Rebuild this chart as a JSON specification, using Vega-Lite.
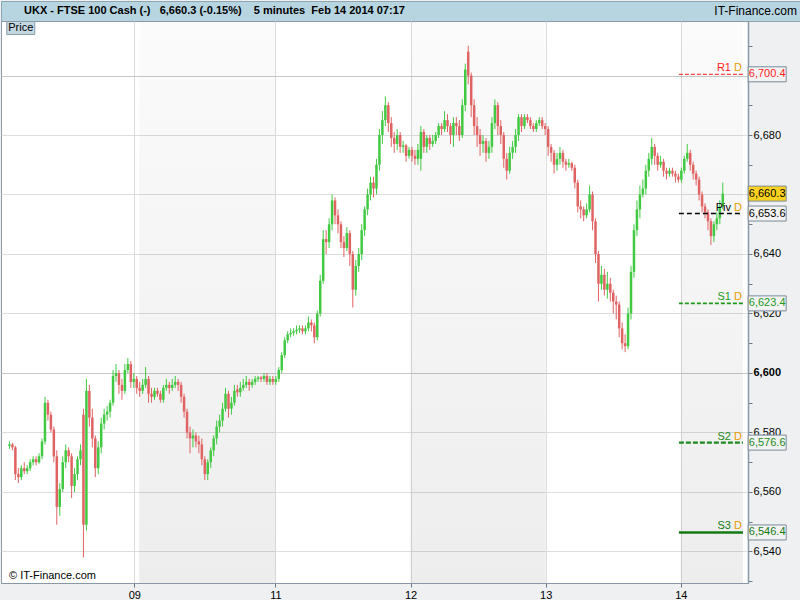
{
  "$schema": "https://vega.github.io/schema/vega-lite/v6.json",
  "background": "#eef0f2",
  "padding": 0,
  "spacing": 0,
  "bounds": "flush",
  "config": {"font": "Liberation Sans", "view": {"stroke": null}},
  "datasets": {
    "candles": [
      {"t":0,"o":6575.5,"h":6577,"l":6574.5,"c":6576},{"t":1,"o":6576,"h":6576.5,"l":6574,"c":6575},{"t":2,"o":6575,"h":6575.5,"l":6564,"c":6566},{"t":3,"o":6566,"h":6568,"l":6563,"c":6565},{"t":4,"o":6565,"h":6569,"l":6564,"c":6568},{"t":5,"o":6568,"h":6570,"l":6566,"c":6567},{"t":6,"o":6567,"h":6569,"l":6566,"c":6568},{"t":7,"o":6568,"h":6571,"l":6567,"c":6570},{"t":8,"o":6570,"h":6572,"l":6569,"c":6571},{"t":9,"o":6571,"h":6572,"l":6569,"c":6570},
      {"t":10,"o":6570,"h":6573,"l":6569.5,"c":6572},{"t":11,"o":6572,"h":6578,"l":6571,"c":6577},{"t":12,"o":6577,"h":6592,"l":6576,"c":6590},{"t":13,"o":6590,"h":6591,"l":6584,"c":6586},{"t":14,"o":6586,"h":6587,"l":6580,"c":6581},{"t":15,"o":6581,"h":6582,"l":6570,"c":6572},{"t":16,"o":6572,"h":6574,"l":6549,"c":6555},{"t":17,"o":6555,"h":6563,"l":6552,"c":6561},{"t":18,"o":6561,"h":6572,"l":6560,"c":6570},{"t":19,"o":6570,"h":6576,"l":6568,"c":6574},
      {"t":20,"o":6574,"h":6575,"l":6570,"c":6572},{"t":21,"o":6572,"h":6573,"l":6558,"c":6562},{"t":22,"o":6562,"h":6568,"l":6560,"c":6566},{"t":23,"o":6566,"h":6572,"l":6564,"c":6571},{"t":24,"o":6571,"h":6576,"l":6569,"c":6574},{"t":25,"o":6586,"h":6588,"l":6538,"c":6549},{"t":26,"o":6549,"h":6598,"l":6547,"c":6594},{"t":27,"o":6594,"h":6596,"l":6582,"c":6585},{"t":28,"o":6585,"h":6588,"l":6575,"c":6578},{"t":29,"o":6578,"h":6579,"l":6565,"c":6568},
      {"t":30,"o":6568,"h":6577,"l":6566,"c":6575},{"t":31,"o":6575,"h":6585,"l":6573,"c":6583},{"t":32,"o":6583,"h":6588,"l":6581,"c":6586},{"t":33,"o":6586,"h":6589,"l":6584,"c":6587},{"t":34,"o":6587,"h":6591,"l":6585,"c":6590},{"t":35,"o":6590,"h":6601,"l":6589,"c":6599},{"t":36,"o":6599,"h":6603,"l":6597,"c":6600},{"t":37,"o":6600,"h":6601,"l":6593,"c":6596},{"t":38,"o":6596,"h":6598,"l":6591,"c":6594},{"t":39,"o":6594,"h":6603,"l":6593,"c":6601},
      {"t":40,"o":6601,"h":6605,"l":6600,"c":6603},{"t":41,"o":6603,"h":6604,"l":6595,"c":6597},{"t":42,"o":6597,"h":6600,"l":6595,"c":6598},{"t":43,"o":6598,"h":6599,"l":6593,"c":6595},{"t":44,"o":6595,"h":6597,"l":6592,"c":6594},{"t":45,"o":6594,"h":6598,"l":6593,"c":6596},{"t":46,"o":6596,"h":6602,"l":6595,"c":6598},{"t":47,"o":6598,"h":6599,"l":6590,"c":6593},{"t":48,"o":6593,"h":6595,"l":6590,"c":6592},{"t":49,"o":6592,"h":6595,"l":6591,"c":6594},
      {"t":50,"o":6594,"h":6595,"l":6592,"c":6593},{"t":51,"o":6593,"h":6594,"l":6590,"c":6591},{"t":52,"o":6591,"h":6596,"l":6590,"c":6595},{"t":53,"o":6595,"h":6598,"l":6594,"c":6596},{"t":54,"o":6596,"h":6597,"l":6593,"c":6595},{"t":55,"o":6595,"h":6598,"l":6594,"c":6596},{"t":56,"o":6596,"h":6599,"l":6595,"c":6597},{"t":57,"o":6597,"h":6598,"l":6594,"c":6596},{"t":58,"o":6596,"h":6597,"l":6590,"c":6592},{"t":59,"o":6592,"h":6593,"l":6585,"c":6587},
      {"t":60,"o":6587,"h":6588,"l":6578,"c":6580},{"t":61,"o":6580,"h":6582,"l":6573,"c":6578},{"t":62,"o":6578,"h":6581,"l":6575,"c":6579},{"t":63,"o":6579,"h":6580,"l":6575,"c":6577},{"t":64,"o":6577,"h":6579,"l":6573,"c":6576},{"t":65,"o":6576,"h":6578,"l":6569,"c":6571},{"t":66,"o":6571,"h":6572,"l":6564,"c":6566},{"t":67,"o":6566,"h":6571,"l":6564,"c":6570},{"t":68,"o":6570,"h":6575,"l":6568,"c":6574},{"t":69,"o":6574,"h":6579,"l":6572,"c":6578},
      {"t":70,"o":6578,"h":6584,"l":6576,"c":6582},{"t":71,"o":6582,"h":6586,"l":6580,"c":6584},{"t":72,"o":6584,"h":6590,"l":6582,"c":6588},{"t":73,"o":6588,"h":6595,"l":6587,"c":6593},{"t":74,"o":6593,"h":6594,"l":6585,"c":6588},{"t":75,"o":6588,"h":6592,"l":6586,"c":6590},{"t":76,"o":6590,"h":6596,"l":6589,"c":6594},{"t":77,"o":6594.5,"h":6596,"l":6592,"c":6593.5},{"t":78,"o":6593.5,"h":6597,"l":6592,"c":6595},{"t":79,"o":6595,"h":6598,"l":6594,"c":6596},
      {"t":80,"o":6596,"h":6599,"l":6595,"c":6597},{"t":81,"o":6597,"h":6598,"l":6594,"c":6596},{"t":82,"o":6596,"h":6598,"l":6595,"c":6597},{"t":83,"o":6597,"h":6599,"l":6596,"c":6598},{"t":84,"o":6598,"h":6599,"l":6597,"c":6598.5},{"t":85,"o":6598.5,"h":6599,"l":6597,"c":6598},{"t":86,"o":6598,"h":6600,"l":6597,"c":6599},{"t":87,"o":6599,"h":6600,"l":6596,"c":6597},{"t":88,"o":6597,"h":6599,"l":6596,"c":6598},{"t":89,"o":6598,"h":6599,"l":6596,"c":6597},
      {"t":90,"o":6597,"h":6599,"l":6596,"c":6598},{"t":91,"o":6598,"h":6602,"l":6597,"c":6601},{"t":92,"o":6601,"h":6607,"l":6600,"c":6606},{"t":93,"o":6606,"h":6612,"l":6605,"c":6611},{"t":94,"o":6611,"h":6614,"l":6610,"c":6613},{"t":95,"o":6613,"h":6615,"l":6612,"c":6613.5},{"t":96,"o":6613.5,"h":6615,"l":6612.5,"c":6614},{"t":97,"o":6614,"h":6616,"l":6613,"c":6614.5},{"t":98,"o":6614.5,"h":6616,"l":6613.5,"c":6615},{"t":99,"o":6615,"h":6616,"l":6613,"c":6614},
      {"t":100,"o":6614,"h":6616,"l":6613,"c":6615},{"t":101,"o":6615,"h":6619,"l":6614,"c":6617},{"t":102,"o":6617,"h":6618,"l":6614,"c":6616},{"t":103,"o":6616,"h":6617,"l":6610,"c":6612},{"t":104,"o":6612,"h":6621,"l":6611,"c":6620},{"t":105,"o":6620,"h":6633,"l":6619,"c":6631},{"t":106,"o":6631,"h":6648,"l":6630,"c":6645},{"t":107,"o":6645,"h":6648,"l":6640,"c":6644},{"t":108,"o":6644,"h":6652,"l":6642,"c":6650},{"t":109,"o":6650,"h":6660,"l":6648,"c":6658},
      {"t":110,"o":6658,"h":6659,"l":6650,"c":6653},{"t":111,"o":6653,"h":6655,"l":6647,"c":6650},{"t":112,"o":6650,"h":6651,"l":6642,"c":6644},{"t":113,"o":6644,"h":6646,"l":6639,"c":6642},{"t":114,"o":6642,"h":6649,"l":6641,"c":6647},{"t":115,"o":6647,"h":6648,"l":6636,"c":6640},{"t":116,"o":6640,"h":6641,"l":6622,"c":6628},{"t":117,"o":6628,"h":6638,"l":6626,"c":6636},{"t":118,"o":6636,"h":6642,"l":6634,"c":6640},{"t":119,"o":6640,"h":6650,"l":6638,"c":6648},
      {"t":120,"o":6648,"h":6656,"l":6646,"c":6655},{"t":121,"o":6655,"h":6662,"l":6653,"c":6660},{"t":122,"o":6660,"h":6666,"l":6658,"c":6664},{"t":123,"o":6664,"h":6666,"l":6659,"c":6662},{"t":124,"o":6662,"h":6672,"l":6660,"c":6670},{"t":125,"o":6670,"h":6682,"l":6668,"c":6680},{"t":126,"o":6680,"h":6688,"l":6677,"c":6685},{"t":127,"o":6685,"h":6693,"l":6683,"c":6690},{"t":128,"o":6690,"h":6691,"l":6681,"c":6684},{"t":129,"o":6684,"h":6686,"l":6676,"c":6679},
      {"t":130,"o":6679,"h":6681,"l":6674,"c":6677},{"t":131,"o":6677,"h":6682,"l":6675,"c":6680},{"t":132,"o":6680,"h":6681,"l":6674,"c":6676},{"t":133,"o":6676,"h":6678,"l":6674,"c":6676.5},{"t":134,"o":6676.5,"h":6677,"l":6671,"c":6673},{"t":135,"o":6673,"h":6676,"l":6672,"c":6675},{"t":136,"o":6675,"h":6676,"l":6671,"c":6673},{"t":137,"o":6673,"h":6675,"l":6670,"c":6672},{"t":138,"o":6672,"h":6677,"l":6670,"c":6675},{"t":139,"o":6672,"h":6683,"l":6668,"c":6681},
      {"t":140,"o":6681,"h":6682,"l":6674,"c":6676},{"t":141,"o":6676,"h":6680,"l":6674,"c":6679},{"t":142,"o":6679,"h":6680,"l":6675,"c":6677},{"t":143,"o":6677,"h":6680,"l":6676,"c":6678},{"t":144,"o":6678,"h":6681,"l":6677,"c":6680},{"t":145,"o":6680,"h":6684,"l":6679,"c":6683},{"t":146,"o":6683,"h":6684,"l":6680,"c":6682},{"t":147,"o":6682,"h":6688,"l":6681,"c":6685},{"t":148,"o":6685,"h":6687,"l":6681,"c":6683},{"t":149,"o":6683,"h":6684,"l":6677,"c":6680},
      {"t":150,"o":6680,"h":6686,"l":6676,"c":6684},{"t":151,"o":6684,"h":6686,"l":6680,"c":6683},{"t":152,"o":6683,"h":6685,"l":6678,"c":6680},{"t":153,"o":6680,"h":6692,"l":6679,"c":6690},{"t":154,"o":6690,"h":6704,"l":6688,"c":6702},{"t":155,"o":6708,"h":6710,"l":6697,"c":6700},{"t":156,"o":6700,"h":6701,"l":6686,"c":6690},{"t":157,"o":6690,"h":6692,"l":6680,"c":6683},{"t":158,"o":6683,"h":6686,"l":6676,"c":6680},{"t":159,"o":6680,"h":6682,"l":6673,"c":6677},
      {"t":160,"o":6677,"h":6680,"l":6674,"c":6678},{"t":161,"o":6678,"h":6679,"l":6671,"c":6674},{"t":162,"o":6674,"h":6678,"l":6672,"c":6676},{"t":163,"o":6676,"h":6686,"l":6674,"c":6684},{"t":164,"o":6684,"h":6692,"l":6682,"c":6690},{"t":165,"o":6690,"h":6691,"l":6680,"c":6683},{"t":166,"o":6683,"h":6685,"l":6677,"c":6680},{"t":167,"o":6680,"h":6681,"l":6669,"c":6672},{"t":168,"o":6672,"h":6674,"l":6665,"c":6668},{"t":169,"o":6668,"h":6676,"l":6667,"c":6674},
      {"t":170,"o":6674,"h":6678,"l":6672,"c":6676},{"t":171,"o":6676,"h":6682,"l":6674,"c":6680},{"t":172,"o":6680,"h":6687,"l":6678,"c":6686},{"t":173,"o":6686,"h":6687,"l":6681,"c":6683},{"t":174,"o":6683,"h":6687,"l":6682,"c":6686},{"t":175,"o":6686,"h":6687,"l":6684,"c":6685},{"t":176,"o":6685,"h":6686,"l":6682,"c":6683},{"t":177,"o":6683,"h":6684,"l":6681,"c":6682},{"t":178,"o":6682,"h":6685,"l":6681,"c":6684},{"t":179,"o":6684,"h":6686,"l":6683,"c":6685},
      {"t":180,"o":6685,"h":6686,"l":6682,"c":6683},{"t":181,"o":6683,"h":6684,"l":6680,"c":6682},{"t":182,"o":6682,"h":6683,"l":6673,"c":6676},{"t":183,"o":6676,"h":6677,"l":6671,"c":6674},{"t":184,"o":6674,"h":6675,"l":6667,"c":6670},{"t":185,"o":6670,"h":6674,"l":6668,"c":6672},{"t":186,"o":6672,"h":6676,"l":6670,"c":6674},{"t":187,"o":6674,"h":6675,"l":6669,"c":6671},{"t":188,"o":6671,"h":6672,"l":6668,"c":6670},{"t":189,"o":6670,"h":6672,"l":6669,"c":6670.5},
      {"t":190,"o":6670.5,"h":6671,"l":6668,"c":6669},{"t":191,"o":6669,"h":6670,"l":6662,"c":6664},{"t":192,"o":6664,"h":6665,"l":6654,"c":6656},{"t":193,"o":6656,"h":6658,"l":6652,"c":6655},{"t":194,"o":6655,"h":6656,"l":6651,"c":6653},{"t":195,"o":6653,"h":6657,"l":6652,"c":6655},{"t":196,"o":6655,"h":6663,"l":6654,"c":6660},{"t":197,"o":6660,"h":6661,"l":6648,"c":6651},{"t":198,"o":6651,"h":6652,"l":6637,"c":6640},{"t":199,"o":6640,"h":6641,"l":6624,"c":6630},
      {"t":200,"o":6630,"h":6636,"l":6628,"c":6633},{"t":201,"o":6633,"h":6635,"l":6626,"c":6628},{"t":202,"o":6628,"h":6634,"l":6625,"c":6630},{"t":203,"o":6630,"h":6632,"l":6624,"c":6627},{"t":204,"o":6627,"h":6628,"l":6620,"c":6624},{"t":205,"o":6624,"h":6626,"l":6618,"c":6623},{"t":206,"o":6623,"h":6624,"l":6612,"c":6615},{"t":207,"o":6615,"h":6617,"l":6608,"c":6610},{"t":208,"o":6610,"h":6613,"l":6607,"c":6609},{"t":209,"o":6609,"h":6622,"l":6608,"c":6620},
      {"t":210,"o":6620,"h":6636,"l":6618,"c":6634},{"t":211,"o":6634,"h":6650,"l":6632,"c":6648},{"t":212,"o":6648,"h":6658,"l":6646,"c":6655},{"t":213,"o":6655,"h":6663,"l":6652,"c":6660},{"t":214,"o":6660,"h":6665,"l":6659,"c":6662},{"t":215,"o":6662,"h":6670,"l":6660,"c":6668},{"t":216,"o":6668,"h":6674,"l":6666,"c":6672},{"t":217,"o":6672,"h":6679,"l":6670,"c":6676},{"t":218,"o":6676,"h":6677,"l":6670,"c":6673},{"t":219,"o":6673,"h":6674,"l":6668,"c":6670},
      {"t":220,"o":6670,"h":6673,"l":6669,"c":6671},{"t":221,"o":6671,"h":6672,"l":6666,"c":6668},{"t":222,"o":6668,"h":6669,"l":6665,"c":6667},{"t":223,"o":6667,"h":6669,"l":6666,"c":6668},{"t":224,"o":6668,"h":6669,"l":6666,"c":6667},{"t":225,"o":6667,"h":6668,"l":6664,"c":6666},{"t":226,"o":6666,"h":6667,"l":6664,"c":6665},{"t":227,"o":6665,"h":6669,"l":6664,"c":6668},{"t":228,"o":6668,"h":6673,"l":6667,"c":6672},{"t":229,"o":6672,"h":6677,"l":6671,"c":6674},
      {"t":230,"o":6674,"h":6675,"l":6668,"c":6670},{"t":231,"o":6670,"h":6671,"l":6665,"c":6667},{"t":232,"o":6667,"h":6668,"l":6663,"c":6665},{"t":233,"o":6665,"h":6666,"l":6658,"c":6660},{"t":234,"o":6660,"h":6661,"l":6654,"c":6656},{"t":235,"o":6656,"h":6657,"l":6652,"c":6654},{"t":236,"o":6654,"h":6655,"l":6648,"c":6651},{"t":237,"o":6651,"h":6652,"l":6643,"c":6646},{"t":238,"o":6646,"h":6651,"l":6644,"c":6650},{"t":239,"o":6650,"h":6654,"l":6648,"c":6652},
      {"t":240,"o":6652,"h":6658,"l":6650,"c":6656},{"t":241,"o":6656,"h":6664,"l":6655,"c":6660.3}
    ],
    "bands": [{"d0": 43.83, "d1": 89.83}, {"d0": 135.5, "d1": 181.17}, {"d0": 226.83, "d1": 247.83}],
    "levels": [
      {"name": "R1", "v": 6700.4},
      {"name": "Piv", "v": 6653.6},
      {"name": "S1", "v": 6623.4},
      {"name": "S2", "v": 6576.6},
      {"name": "S3", "v": 6546.4}
    ],
    "tags": [
      {"name": "R1", "v": 6700.4},
      {"name": "Last", "v": 6660.3},
      {"name": "Piv", "v": 6653.6},
      {"name": "S1", "v": 6623.4},
      {"name": "S2", "v": 6576.6},
      {"name": "S3", "v": 6546.4}
    ]
  },
  "vconcat": [
    {
      "width": 800,
      "height": 20,
      "view": {"fill": "#b7d5e0", "stroke": "#8fa5b2"},
      "data": {"values": [{"left": "UKX - FTSE 100 Cash (-)\u00a0\u00a0 6,660.3 (-0.15%)\u00a0\u00a0\u00a0 5 minutes\u00a0 Feb 14 2014 07:17", "right": "IT-Finance.com"}]},
      "layer": [
        {
          "mark": {"type": "text", "align": "left", "baseline": "middle", "fontWeight": "bold", "fontSize": 11, "dx": 23, "color": "#000000"},
          "encoding": {"x": {"datum": 0, "type": "quantitative", "scale": {"domain": [0, 1]}, "axis": null}, "text": {"field": "left"}}
        },
        {
          "mark": {"type": "text", "align": "right", "baseline": "middle", "fontSize": 12, "dx": -4, "color": "#000000"},
          "encoding": {"x": {"datum": 1, "type": "quantitative", "scale": {"domain": [0, 1]}, "axis": null}, "text": {"field": "right"}}
        }
      ]
    },
    {
      "width": 747,
      "height": 562,
      "view": {"fill": "#ffffff", "stroke": "#8a9aa8"},
      "layer": [
        {
          "data": {"name": "bands"},
          "mark": {"type": "rect", "fill": {"x1": 0, "y1": 0, "x2": 0, "y2": 1, "gradient": "linear", "stops": [{"offset": 0, "color": "rgba(0,0,0,0.015)"}, {"offset": 1, "color": "rgba(0,0,0,0.07)"}]}},
          "encoding": {
            "x": {"field": "d0", "type": "quantitative", "scale": {"domain": [-1.1667, 247.8333], "nice": false, "zero": false},
              "axis": {"orient": "bottom", "values": [42.17, 89.83, 135.5, 181.17, 226.83], "labelExpr": "datum.value < 60 ? '09' : datum.value < 100 ? '11' : datum.value < 150 ? '12' : datum.value < 200 ? '13' : '14'", "title": null, "grid": true, "gridColor": "#dcdcdc", "domainColor": "#8898a8", "tickColor": "#6a7a88", "tickSize": 4, "labelFontSize": 11, "labelColor": "#000000", "labelPadding": 2, "labelFlush": false, "labelOverlap": false}},
            "x2": {"field": "d1"}
          }
        },
        {
          "data": {"name": "candles"},
          "mark": {"type": "rule", "strokeWidth": 1},
          "encoding": {
            "x": {"field": "t", "type": "quantitative", "scale": {"domain": [-1.1667, 247.8333], "nice": false, "zero": false},
              "axis": {"orient": "bottom", "values": [42.17, 89.83, 135.5, 181.17, 226.83], "labelExpr": "datum.value < 60 ? '09' : datum.value < 100 ? '11' : datum.value < 150 ? '12' : datum.value < 200 ? '13' : '14'", "title": null, "grid": true, "gridColor": "#dcdcdc", "domainColor": "#8898a8", "tickColor": "#6a7a88", "tickSize": 4, "labelFontSize": 11, "labelColor": "#000000", "labelPadding": 2, "labelFlush": false, "labelOverlap": false}},
            "y": {"field": "l", "type": "quantitative", "scale": {"domain": [6529.41, 6718.32], "nice": false, "zero": false},
              "axis": {"orient": "right", "values": [6530, 6540, 6550, 6560, 6570, 6580, 6590, 6600, 6610, 6620, 6630, 6640, 6650, 6660, 6670, 6680, 6690, 6700, 6710], "format": ",d", "labelExpr": "(datum.value % 20 != 0 || datum.value == 6660 || datum.value == 6700) ? '' : datum.label", "title": null, "grid": true, "gridColor": {"condition": {"test": "datum.value == 6600 || datum.value == 6700", "value": "#c8c8c8"}, "value": "#dddddd"}, "gridOpacity": {"condition": {"test": "datum.value % 20 == 0", "value": 1}, "value": 0}, "labelFontWeight": {"condition": {"test": "datum.value == 6600", "value": "bold"}, "value": "normal"}, "domainColor": "#8898a8", "domainWidth": 1.5, "tickColor": "#6a7a88", "tickSize": 4, "labelFontSize": 11, "labelColor": "#000000", "labelPadding": 1, "labelFlush": false, "labelOverlap": false}},
            "y2": {"field": "h"},
            "color": {"condition": {"test": "datum.c >= datum.o", "value": "#42c942"}, "value": "#e06363"}
          }
        },
        {
          "data": {"name": "candles"},
          "mark": {"type": "bar", "size": 2.5, "orient": "vertical"},
          "encoding": {
            "x": {"field": "t", "type": "quantitative", "scale": {"domain": [-1.1667, 247.8333], "nice": false, "zero": false},
              "axis": {"orient": "bottom", "values": [42.17, 89.83, 135.5, 181.17, 226.83], "labelExpr": "datum.value < 60 ? '09' : datum.value < 100 ? '11' : datum.value < 150 ? '12' : datum.value < 200 ? '13' : '14'", "title": null, "grid": true, "gridColor": "#dcdcdc", "domainColor": "#8898a8", "tickColor": "#6a7a88", "tickSize": 4, "labelFontSize": 11, "labelColor": "#000000", "labelPadding": 2, "labelFlush": false, "labelOverlap": false}},
            "y": {"field": "o", "type": "quantitative", "scale": {"domain": [6529.41, 6718.32], "nice": false, "zero": false},
              "axis": {"orient": "right", "values": [6530, 6540, 6550, 6560, 6570, 6580, 6590, 6600, 6610, 6620, 6630, 6640, 6650, 6660, 6670, 6680, 6690, 6700, 6710], "format": ",d", "labelExpr": "(datum.value % 20 != 0 || datum.value == 6660 || datum.value == 6700) ? '' : datum.label", "title": null, "grid": true, "gridColor": {"condition": {"test": "datum.value == 6600 || datum.value == 6700", "value": "#c8c8c8"}, "value": "#dddddd"}, "gridOpacity": {"condition": {"test": "datum.value % 20 == 0", "value": 1}, "value": 0}, "labelFontWeight": {"condition": {"test": "datum.value == 6600", "value": "bold"}, "value": "normal"}, "domainColor": "#8898a8", "domainWidth": 1.5, "tickColor": "#6a7a88", "tickSize": 4, "labelFontSize": 11, "labelColor": "#000000", "labelPadding": 1, "labelFlush": false, "labelOverlap": false}},
            "y2": {"field": "c"},
            "color": {"condition": {"test": "datum.c >= datum.o", "value": "#42c942"}, "value": "#e06363"}
          }
        },
        {
          "data": {"name": "levels"},
          "mark": {"type": "rule"},
          "encoding": {
            "x": {"datum": 226.17, "type": "quantitative", "scale": {"domain": [-1.1667, 247.8333], "nice": false, "zero": false},
              "axis": {"orient": "bottom", "values": [42.17, 89.83, 135.5, 181.17, 226.83], "labelExpr": "datum.value < 60 ? '09' : datum.value < 100 ? '11' : datum.value < 150 ? '12' : datum.value < 200 ? '13' : '14'", "title": null, "grid": true, "gridColor": "#dcdcdc", "domainColor": "#8898a8", "tickColor": "#6a7a88", "tickSize": 4, "labelFontSize": 11, "labelColor": "#000000", "labelPadding": 2, "labelFlush": false, "labelOverlap": false}},
            "x2": {"datum": 247.83},
            "y": {"field": "v", "type": "quantitative", "scale": {"domain": [6529.41, 6718.32], "nice": false, "zero": false},
              "axis": {"orient": "right", "values": [6530, 6540, 6550, 6560, 6570, 6580, 6590, 6600, 6610, 6620, 6630, 6640, 6650, 6660, 6670, 6680, 6690, 6700, 6710], "format": ",d", "labelExpr": "(datum.value % 20 != 0 || datum.value == 6660 || datum.value == 6700) ? '' : datum.label", "title": null, "grid": true, "gridColor": {"condition": {"test": "datum.value == 6600 || datum.value == 6700", "value": "#c8c8c8"}, "value": "#dddddd"}, "gridOpacity": {"condition": {"test": "datum.value % 20 == 0", "value": 1}, "value": 0}, "labelFontWeight": {"condition": {"test": "datum.value == 6600", "value": "bold"}, "value": "normal"}, "domainColor": "#8898a8", "domainWidth": 1.5, "tickColor": "#6a7a88", "tickSize": 4, "labelFontSize": 11, "labelColor": "#000000", "labelPadding": 1, "labelFlush": false, "labelOverlap": false}},
            "color": {"field": "name", "type": "nominal", "scale": {"domain": ["R1", "Last", "Piv", "S1", "S2", "S3"], "range": ["#ff1a1a", "#000000", "#000000", "#1c9a1c", "#1c8a1c", "#137a13"]}, "legend": null},
            "strokeWidth": {"field": "name", "type": "ordinal", "scale": {"domain": ["R1", "Piv", "S1", "S2", "S3"], "range": [1, 2.5, 1, 2, 2]}, "legend": null},
            "strokeDash": {"field": "name", "type": "nominal", "scale": {"domain": ["R1", "Piv", "S1", "S2", "S3"], "range": [[4, 2], [5, 3], [4, 2], [5, 2], [1, 0]]}, "legend": null}
          }
        },
        {
          "data": {"name": "levels"},
          "mark": {"type": "text", "align": "right", "baseline": "alphabetic", "dy": -3, "dx": -12, "fontSize": 11},
          "encoding": {
            "x": {"datum": 247.83, "type": "quantitative", "scale": {"domain": [-1.1667, 247.8333], "nice": false, "zero": false},
              "axis": {"orient": "bottom", "values": [42.17, 89.83, 135.5, 181.17, 226.83], "labelExpr": "datum.value < 60 ? '09' : datum.value < 100 ? '11' : datum.value < 150 ? '12' : datum.value < 200 ? '13' : '14'", "title": null, "grid": true, "gridColor": "#dcdcdc", "domainColor": "#8898a8", "tickColor": "#6a7a88", "tickSize": 4, "labelFontSize": 11, "labelColor": "#000000", "labelPadding": 2, "labelFlush": false, "labelOverlap": false}},
            "y": {"field": "v", "type": "quantitative", "scale": {"domain": [6529.41, 6718.32], "nice": false, "zero": false},
              "axis": {"orient": "right", "values": [6530, 6540, 6550, 6560, 6570, 6580, 6590, 6600, 6610, 6620, 6630, 6640, 6650, 6660, 6670, 6680, 6690, 6700, 6710], "format": ",d", "labelExpr": "(datum.value % 20 != 0 || datum.value == 6660 || datum.value == 6700) ? '' : datum.label", "title": null, "grid": true, "gridColor": {"condition": {"test": "datum.value == 6600 || datum.value == 6700", "value": "#c8c8c8"}, "value": "#dddddd"}, "gridOpacity": {"condition": {"test": "datum.value % 20 == 0", "value": 1}, "value": 0}, "labelFontWeight": {"condition": {"test": "datum.value == 6600", "value": "bold"}, "value": "normal"}, "domainColor": "#8898a8", "domainWidth": 1.5, "tickColor": "#6a7a88", "tickSize": 4, "labelFontSize": 11, "labelColor": "#000000", "labelPadding": 1, "labelFlush": false, "labelOverlap": false}},
            "text": {"field": "name"},
            "color": {"field": "name", "type": "nominal", "scale": {"domain": ["R1", "Last", "Piv", "S1", "S2", "S3"], "range": ["#ff1a1a", "#000000", "#000000", "#1c9a1c", "#1c8a1c", "#137a13"]}, "legend": null}
          }
        },
        {
          "data": {"name": "levels"},
          "mark": {"type": "text", "align": "right", "baseline": "alphabetic", "dy": -3, "dx": -1, "fontSize": 11, "color": "#e89a00"},
          "encoding": {
            "x": {"datum": 247.83, "type": "quantitative", "scale": {"domain": [-1.1667, 247.8333], "nice": false, "zero": false},
              "axis": {"orient": "bottom", "values": [42.17, 89.83, 135.5, 181.17, 226.83], "labelExpr": "datum.value < 60 ? '09' : datum.value < 100 ? '11' : datum.value < 150 ? '12' : datum.value < 200 ? '13' : '14'", "title": null, "grid": true, "gridColor": "#dcdcdc", "domainColor": "#8898a8", "tickColor": "#6a7a88", "tickSize": 4, "labelFontSize": 11, "labelColor": "#000000", "labelPadding": 2, "labelFlush": false, "labelOverlap": false}},
            "y": {"field": "v", "type": "quantitative", "scale": {"domain": [6529.41, 6718.32], "nice": false, "zero": false},
              "axis": {"orient": "right", "values": [6530, 6540, 6550, 6560, 6570, 6580, 6590, 6600, 6610, 6620, 6630, 6640, 6650, 6660, 6670, 6680, 6690, 6700, 6710], "format": ",d", "labelExpr": "(datum.value % 20 != 0 || datum.value == 6660 || datum.value == 6700) ? '' : datum.label", "title": null, "grid": true, "gridColor": {"condition": {"test": "datum.value == 6600 || datum.value == 6700", "value": "#c8c8c8"}, "value": "#dddddd"}, "gridOpacity": {"condition": {"test": "datum.value % 20 == 0", "value": 1}, "value": 0}, "labelFontWeight": {"condition": {"test": "datum.value == 6600", "value": "bold"}, "value": "normal"}, "domainColor": "#8898a8", "domainWidth": 1.5, "tickColor": "#6a7a88", "tickSize": 4, "labelFontSize": 11, "labelColor": "#000000", "labelPadding": 1, "labelFlush": false, "labelOverlap": false}},
            "text": {"value": "D"}
          }
        },
        {
          "data": {"name": "tags"},
          "mark": {"type": "rect", "width": 38, "height": 15, "stroke": "#7b8b98", "strokeWidth": 1},
          "encoding": {
            "x": {"datum": 256.0, "type": "quantitative", "scale": {"domain": [-1.1667, 247.8333], "nice": false, "zero": false},
              "axis": {"orient": "bottom", "values": [42.17, 89.83, 135.5, 181.17, 226.83], "labelExpr": "datum.value < 60 ? '09' : datum.value < 100 ? '11' : datum.value < 150 ? '12' : datum.value < 200 ? '13' : '14'", "title": null, "grid": true, "gridColor": "#dcdcdc", "domainColor": "#8898a8", "tickColor": "#6a7a88", "tickSize": 4, "labelFontSize": 11, "labelColor": "#000000", "labelPadding": 2, "labelFlush": false, "labelOverlap": false}},
            "y": {"field": "v", "type": "quantitative", "scale": {"domain": [6529.41, 6718.32], "nice": false, "zero": false},
              "axis": {"orient": "right", "values": [6530, 6540, 6550, 6560, 6570, 6580, 6590, 6600, 6610, 6620, 6630, 6640, 6650, 6660, 6670, 6680, 6690, 6700, 6710], "format": ",d", "labelExpr": "(datum.value % 20 != 0 || datum.value == 6660 || datum.value == 6700) ? '' : datum.label", "title": null, "grid": true, "gridColor": {"condition": {"test": "datum.value == 6600 || datum.value == 6700", "value": "#c8c8c8"}, "value": "#dddddd"}, "gridOpacity": {"condition": {"test": "datum.value % 20 == 0", "value": 1}, "value": 0}, "labelFontWeight": {"condition": {"test": "datum.value == 6600", "value": "bold"}, "value": "normal"}, "domainColor": "#8898a8", "domainWidth": 1.5, "tickColor": "#6a7a88", "tickSize": 4, "labelFontSize": 11, "labelColor": "#000000", "labelPadding": 1, "labelFlush": false, "labelOverlap": false}},
            "fill": {"field": "name", "type": "nominal", "scale": {"domain": ["R1", "Last", "Piv", "S1", "S2", "S3"], "range": ["#f3f3f3", "#ffd21f", "#f3f3f3", "#f3f3f3", "#f3f3f3", "#f3f3f3"]}, "legend": null}
          }
        },
        {
          "data": {"name": "tags"},
          "mark": {"type": "text", "align": "center", "baseline": "middle", "fontSize": 11},
          "encoding": {
            "x": {"datum": 256.0, "type": "quantitative", "scale": {"domain": [-1.1667, 247.8333], "nice": false, "zero": false},
              "axis": {"orient": "bottom", "values": [42.17, 89.83, 135.5, 181.17, 226.83], "labelExpr": "datum.value < 60 ? '09' : datum.value < 100 ? '11' : datum.value < 150 ? '12' : datum.value < 200 ? '13' : '14'", "title": null, "grid": true, "gridColor": "#dcdcdc", "domainColor": "#8898a8", "tickColor": "#6a7a88", "tickSize": 4, "labelFontSize": 11, "labelColor": "#000000", "labelPadding": 2, "labelFlush": false, "labelOverlap": false}},
            "y": {"field": "v", "type": "quantitative", "scale": {"domain": [6529.41, 6718.32], "nice": false, "zero": false},
              "axis": {"orient": "right", "values": [6530, 6540, 6550, 6560, 6570, 6580, 6590, 6600, 6610, 6620, 6630, 6640, 6650, 6660, 6670, 6680, 6690, 6700, 6710], "format": ",d", "labelExpr": "(datum.value % 20 != 0 || datum.value == 6660 || datum.value == 6700) ? '' : datum.label", "title": null, "grid": true, "gridColor": {"condition": {"test": "datum.value == 6600 || datum.value == 6700", "value": "#c8c8c8"}, "value": "#dddddd"}, "gridOpacity": {"condition": {"test": "datum.value % 20 == 0", "value": 1}, "value": 0}, "labelFontWeight": {"condition": {"test": "datum.value == 6600", "value": "bold"}, "value": "normal"}, "domainColor": "#8898a8", "domainWidth": 1.5, "tickColor": "#6a7a88", "tickSize": 4, "labelFontSize": 11, "labelColor": "#000000", "labelPadding": 1, "labelFlush": false, "labelOverlap": false}},
            "text": {"field": "v", "format": ",.1f"},
            "color": {"field": "name", "type": "nominal", "scale": {"domain": ["R1", "Last", "Piv", "S1", "S2", "S3"], "range": ["#ff1a1a", "#000000", "#000000", "#1c9a1c", "#1c8a1c", "#137a13"]}, "legend": null}
          }
        },
        {
          "data": {"values": [{"label": "Price"}]},
          "mark": {"type": "rect", "width": 28, "height": 13, "fill": "#c3d7e1", "stroke": "#8a9cab", "strokeWidth": 1},
          "encoding": {
            "x": {"datum": 3.83, "type": "quantitative", "scale": {"domain": [-1.1667, 247.8333], "nice": false, "zero": false},
              "axis": {"orient": "bottom", "values": [42.17, 89.83, 135.5, 181.17, 226.83], "labelExpr": "datum.value < 60 ? '09' : datum.value < 100 ? '11' : datum.value < 150 ? '12' : datum.value < 200 ? '13' : '14'", "title": null, "grid": true, "gridColor": "#dcdcdc", "domainColor": "#8898a8", "tickColor": "#6a7a88", "tickSize": 4, "labelFontSize": 11, "labelColor": "#000000", "labelPadding": 2, "labelFlush": false, "labelOverlap": false}},
            "y": {"datum": 6715.97, "type": "quantitative", "scale": {"domain": [6529.41, 6718.32], "nice": false, "zero": false},
              "axis": {"orient": "right", "values": [6530, 6540, 6550, 6560, 6570, 6580, 6590, 6600, 6610, 6620, 6630, 6640, 6650, 6660, 6670, 6680, 6690, 6700, 6710], "format": ",d", "labelExpr": "(datum.value % 20 != 0 || datum.value == 6660 || datum.value == 6700) ? '' : datum.label", "title": null, "grid": true, "gridColor": {"condition": {"test": "datum.value == 6600 || datum.value == 6700", "value": "#c8c8c8"}, "value": "#dddddd"}, "gridOpacity": {"condition": {"test": "datum.value % 20 == 0", "value": 1}, "value": 0}, "labelFontWeight": {"condition": {"test": "datum.value == 6600", "value": "bold"}, "value": "normal"}, "domainColor": "#8898a8", "domainWidth": 1.5, "tickColor": "#6a7a88", "tickSize": 4, "labelFontSize": 11, "labelColor": "#000000", "labelPadding": 1, "labelFlush": false, "labelOverlap": false}}
          }
        },
        {
          "data": {"values": [{"label": "Price"}]},
          "mark": {"type": "text", "align": "center", "baseline": "middle", "fontSize": 11, "color": "#000000"},
          "encoding": {
            "x": {"datum": 3.83, "type": "quantitative", "scale": {"domain": [-1.1667, 247.8333], "nice": false, "zero": false},
              "axis": {"orient": "bottom", "values": [42.17, 89.83, 135.5, 181.17, 226.83], "labelExpr": "datum.value < 60 ? '09' : datum.value < 100 ? '11' : datum.value < 150 ? '12' : datum.value < 200 ? '13' : '14'", "title": null, "grid": true, "gridColor": "#dcdcdc", "domainColor": "#8898a8", "tickColor": "#6a7a88", "tickSize": 4, "labelFontSize": 11, "labelColor": "#000000", "labelPadding": 2, "labelFlush": false, "labelOverlap": false}},
            "y": {"datum": 6715.97, "type": "quantitative", "scale": {"domain": [6529.41, 6718.32], "nice": false, "zero": false},
              "axis": {"orient": "right", "values": [6530, 6540, 6550, 6560, 6570, 6580, 6590, 6600, 6610, 6620, 6630, 6640, 6650, 6660, 6670, 6680, 6690, 6700, 6710], "format": ",d", "labelExpr": "(datum.value % 20 != 0 || datum.value == 6660 || datum.value == 6700) ? '' : datum.label", "title": null, "grid": true, "gridColor": {"condition": {"test": "datum.value == 6600 || datum.value == 6700", "value": "#c8c8c8"}, "value": "#dddddd"}, "gridOpacity": {"condition": {"test": "datum.value % 20 == 0", "value": 1}, "value": 0}, "labelFontWeight": {"condition": {"test": "datum.value == 6600", "value": "bold"}, "value": "normal"}, "domainColor": "#8898a8", "domainWidth": 1.5, "tickColor": "#6a7a88", "tickSize": 4, "labelFontSize": 11, "labelColor": "#000000", "labelPadding": 1, "labelFlush": false, "labelOverlap": false}},
            "text": {"field": "label"}
          }
        },
        {
          "data": {"values": [{"label": "© IT-Finance.com"}]},
          "mark": {"type": "text", "align": "left", "baseline": "alphabetic", "fontSize": 11, "dx": 1, "color": "#000000"},
          "encoding": {
            "x": {"datum": -0.5, "type": "quantitative", "scale": {"domain": [-1.1667, 247.8333], "nice": false, "zero": false},
              "axis": {"orient": "bottom", "values": [42.17, 89.83, 135.5, 181.17, 226.83], "labelExpr": "datum.value < 60 ? '09' : datum.value < 100 ? '11' : datum.value < 150 ? '12' : datum.value < 200 ? '13' : '14'", "title": null, "grid": true, "gridColor": "#dcdcdc", "domainColor": "#8898a8", "tickColor": "#6a7a88", "tickSize": 4, "labelFontSize": 11, "labelColor": "#000000", "labelPadding": 2, "labelFlush": false, "labelOverlap": false}},
            "y": {"datum": 6530.6, "type": "quantitative", "scale": {"domain": [6529.41, 6718.32], "nice": false, "zero": false},
              "axis": {"orient": "right", "values": [6530, 6540, 6550, 6560, 6570, 6580, 6590, 6600, 6610, 6620, 6630, 6640, 6650, 6660, 6670, 6680, 6690, 6700, 6710], "format": ",d", "labelExpr": "(datum.value % 20 != 0 || datum.value == 6660 || datum.value == 6700) ? '' : datum.label", "title": null, "grid": true, "gridColor": {"condition": {"test": "datum.value == 6600 || datum.value == 6700", "value": "#c8c8c8"}, "value": "#dddddd"}, "gridOpacity": {"condition": {"test": "datum.value % 20 == 0", "value": 1}, "value": 0}, "labelFontWeight": {"condition": {"test": "datum.value == 6600", "value": "bold"}, "value": "normal"}, "domainColor": "#8898a8", "domainWidth": 1.5, "tickColor": "#6a7a88", "tickSize": 4, "labelFontSize": 11, "labelColor": "#000000", "labelPadding": 1, "labelFlush": false, "labelOverlap": false}},
            "text": {"field": "label"}
          }
        }
      ]
    }
  ]
}
